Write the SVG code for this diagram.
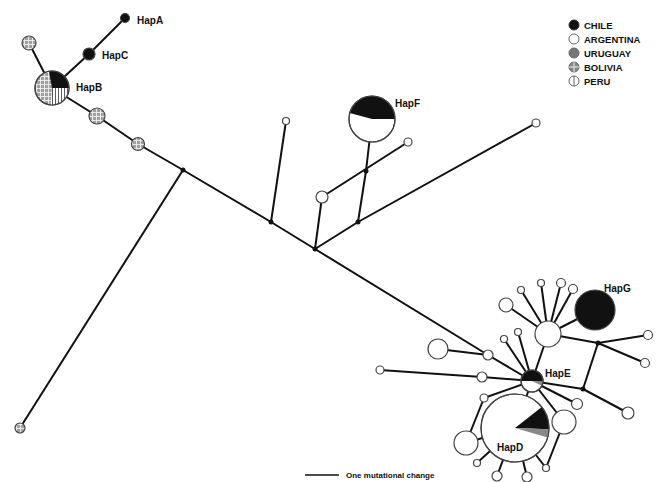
<svg xmlns="http://www.w3.org/2000/svg" width="656" height="482" viewBox="0 0 656 482">
<defs>
<pattern id="bol" patternUnits="userSpaceOnUse" width="4" height="4">
<rect width="4" height="4" fill="#a0a0a0"/>
<path d="M0,0.5 H4 M0.5,0 V4" stroke="#f0f0f0" stroke-width="0.9"/>
</pattern>
<pattern id="peru" patternUnits="userSpaceOnUse" width="3" height="3">
<rect width="3" height="3" fill="#fff"/>
<path d="M1.5,0 V3" stroke="#333" stroke-width="0.8"/>
</pattern>
<style>
.e{stroke:#111;stroke-width:2;fill:none}
.n{stroke:#444;stroke-width:1.2}
.w{fill:#fff}
.k{fill:#111}
.b{fill:url(#bol)}
.j{fill:#111}
.lab{font-family:"Liberation Sans",Arial,sans-serif;font-weight:bold;font-size:10px;fill:#111}
.leg{font-family:"Liberation Sans",Arial,sans-serif;font-weight:bold;font-size:9.5px;fill:#111}
</style>
</defs>
<rect width="656" height="482" fill="#fff"/>

<g id="connectors">
<line class="e" x1="125" y1="18" x2="89" y2="54"/>
<line class="e" x1="89" y1="54" x2="52" y2="88"/>
<line class="e" x1="52" y1="88" x2="29" y2="43"/>
<line class="e" x1="52" y1="88" x2="97" y2="116"/>
<line class="e" x1="97" y1="116" x2="138" y2="144"/>
<line class="e" x1="138" y1="144" x2="183" y2="170"/>
<line class="e" x1="183" y1="170" x2="20" y2="428"/>
<line class="e" x1="183" y1="170" x2="271" y2="222"/>
<line class="e" x1="271" y1="222" x2="286" y2="121"/>
<line class="e" x1="271" y1="222" x2="315" y2="249"/>
<line class="e" x1="315" y1="249" x2="322" y2="197"/>
<line class="e" x1="315" y1="249" x2="358" y2="222"/>
<line class="e" x1="358" y1="222" x2="536" y2="123"/>
<line class="e" x1="358" y1="222" x2="366" y2="171"/>
<line class="e" x1="366" y1="171" x2="372" y2="119"/>
<line class="e" x1="322" y1="197" x2="408" y2="142"/>
<line class="e" x1="315" y1="249" x2="488" y2="355"/>
<line class="e" x1="488" y1="355" x2="438" y2="349"/>
<line class="e" x1="488" y1="355" x2="532" y2="381"/>
<line class="e" x1="380" y1="370" x2="482" y2="377"/>
<line class="e" x1="482" y1="377" x2="532" y2="381"/>
<line class="e" x1="532" y1="381" x2="504" y2="339"/>
<line class="e" x1="532" y1="381" x2="518" y2="332"/>
<line class="e" x1="532" y1="381" x2="548" y2="334"/>
<line class="e" x1="548" y1="334" x2="506" y2="305"/>
<line class="e" x1="548" y1="334" x2="521" y2="290"/>
<line class="e" x1="548" y1="334" x2="541" y2="283"/>
<line class="e" x1="548" y1="334" x2="561" y2="283"/>
<line class="e" x1="548" y1="334" x2="573" y2="289"/>
<line class="e" x1="548" y1="334" x2="595" y2="310"/>
<line class="e" x1="548" y1="334" x2="598" y2="343"/>
<line class="e" x1="598" y1="343" x2="648" y2="335"/>
<line class="e" x1="598" y1="343" x2="645" y2="363"/>
<line class="e" x1="598" y1="343" x2="583" y2="389"/>
<line class="e" x1="532" y1="381" x2="583" y2="389"/>
<line class="e" x1="583" y1="389" x2="628" y2="413"/>
<line class="e" x1="532" y1="381" x2="577" y2="404"/>
<line class="e" x1="532" y1="381" x2="564" y2="422"/>
<line class="e" x1="564" y1="422" x2="546" y2="468"/>
<line class="e" x1="515" y1="428" x2="546" y2="468"/>
<line class="e" x1="532" y1="381" x2="515" y2="428"/>
<line class="e" x1="532" y1="381" x2="484" y2="398"/>
<line class="e" x1="484" y1="398" x2="466" y2="443"/>
<line class="e" x1="466" y1="443" x2="515" y2="428"/>
<line class="e" x1="515" y1="428" x2="477" y2="463"/>
<line class="e" x1="515" y1="428" x2="497" y2="476"/>
<line class="e" x1="515" y1="428" x2="527" y2="477"/>
</g>

<g id="HapA"><circle class="n k" cx="125" cy="18" r="4.5"/><text class="lab" x="137" y="24">HapA</text></g>
<g id="HapC"><circle class="n k" cx="89" cy="54" r="6"/><text class="lab" x="102" y="59">HapC</text></g>
<g id="HapB">
<circle class="n b" cx="52" cy="88" r="17"/>
<path d="M52,88 L49.05,71.26 A17,17 0 0,1 69,88 Z" fill="#111"/>
<path d="M52,88 L69,88 A17,17 0 0,1 50.52,104.94 Z" fill="url(#peru)"/>
<circle cx="52" cy="88" r="17" fill="none" stroke="#444" stroke-width="1.2"/>
<text class="lab" x="76" y="91">HapB</text>
</g>
<g id="bol1"><circle class="n b" cx="29" cy="43" r="7"/></g>
<g id="bol2"><circle class="n b" cx="97" cy="116" r="8"/></g>
<g id="bol3"><circle class="n b" cx="138" cy="144" r="6.5"/></g>
<g id="bol4"><circle class="n b" cx="20" cy="428" r="5"/></g>
<g id="j1"><circle class="j" cx="183" cy="170" r="2.5"/></g>
<g id="j2"><circle class="j" cx="271" cy="222" r="2.5"/></g>
<g id="j3"><circle class="j" cx="315" cy="249" r="2.5"/></g>
<g id="j4"><circle class="j" cx="358" cy="222" r="2.5"/></g>
<g id="j5"><circle class="j" cx="366" cy="171" r="2.5"/></g>
<g id="w1"><circle class="n w" cx="286" cy="121" r="3.5"/></g>
<g id="w2"><circle class="n w" cx="322" cy="197" r="6"/></g>
<g id="w3"><circle class="n w" cx="408" cy="142" r="4"/></g>
<g id="w4"><circle class="n w" cx="536" cy="123" r="4"/></g>
<g id="HapF">
<circle class="n w" cx="372" cy="119" r="23"/>
<path d="M372,119 L349.8,113.05 A23,23 0 0,1 395,119 Z" fill="#111"/>
<circle cx="372" cy="119" r="23" fill="none" stroke="#444" stroke-width="1.2"/>
<text class="lab" x="395" y="107">HapF</text>
</g>

<g id="w5"><circle class="n w" cx="488" cy="355" r="5"/></g>
<g id="l1"><circle class="n w" cx="438" cy="349" r="10"/></g>
<g id="w6"><circle class="n w" cx="380" cy="370" r="4"/></g>
<g id="w7"><circle class="n w" cx="482" cy="377" r="5"/></g>
<g id="s1"><circle class="n w" cx="504" cy="339" r="3.5"/></g>
<g id="s2"><circle class="n w" cx="518" cy="332" r="3.5"/></g>
<g id="m1"><circle class="n w" cx="548" cy="334" r="13"/></g>
<g id="t1"><circle class="n w" cx="506" cy="305" r="7"/></g>
<g id="t2"><circle class="n w" cx="521" cy="290" r="3.5"/></g>
<g id="t3"><circle class="n w" cx="541" cy="283" r="3.5"/></g>
<g id="t4"><circle class="n w" cx="561" cy="283" r="4.5"/></g>
<g id="t5"><circle class="n w" cx="573" cy="289" r="4.5"/></g>
<g id="HapG"><circle class="n k" cx="595" cy="310" r="20"/><text class="lab" x="604" y="292">HapG</text></g>
<g id="j6"><circle class="j" cx="598" cy="343" r="2.5"/></g>
<g id="j7"><circle class="j" cx="583" cy="389" r="2.5"/></g>
<g id="r1"><circle class="n w" cx="648" cy="335" r="4.5"/></g>
<g id="r2"><circle class="n w" cx="645" cy="363" r="4.5"/></g>
<g id="r3"><circle class="n w" cx="628" cy="413" r="6"/></g>
<g id="r4"><circle class="n w" cx="577" cy="404" r="5.5"/></g>
<g id="r5"><circle class="n w" cx="564" cy="422" r="12"/></g>
<g id="r6"><circle class="n w" cx="546" cy="468" r="3.5"/></g>
<g id="d1"><circle class="n w" cx="484" cy="398" r="4"/></g>
<g id="d2"><circle class="n w" cx="466" cy="443" r="12"/></g>
<g id="d3"><circle class="n w" cx="477" cy="463" r="3.5"/></g>
<g id="d4"><circle class="n w" cx="497" cy="476" r="5"/></g>
<g id="d5"><circle class="n w" cx="527" cy="477" r="5"/></g>
<g id="HapD">
<circle class="n w" cx="515" cy="428" r="34"/>
<path d="M515,428 L541.8,407.1 A34,34 0 0,1 548.98,429.19 Z" fill="#111"/>
<path d="M515,428 L548.98,429.19 A34,34 0 0,1 547.7,437.4 Z" fill="#888"/>
<circle cx="515" cy="428" r="34" fill="none" stroke="#444" stroke-width="1.2"/>
<text class="lab" x="497" y="451">HapD</text>
</g>
<g id="HapE">
<circle class="n w" cx="532" cy="381" r="11"/>
<path d="M521,381 A11,11 0 0,1 543,381 Z" fill="#111"/>
<path d="M532,381 L543,381 A11,11 0 0,1 541.97,385.65 Z" fill="#888"/>
<circle cx="532" cy="381" r="11" fill="none" stroke="#444" stroke-width="1.2"/>
<text class="lab" x="545" y="377">HapE</text>
</g>

<g id="legend">
<circle cx="574" cy="25" r="5" fill="#111" stroke="#333"/>
<text class="leg" x="584" y="28.5">CHILE</text>
<circle cx="574" cy="39" r="5" fill="#fff" stroke="#666"/>
<text class="leg" x="584" y="42.5">ARGENTINA</text>
<circle cx="574" cy="53" r="5" fill="#777" stroke="#666"/>
<text class="leg" x="584" y="56.5">URUGUAY</text>
<circle cx="574" cy="67" r="5" fill="#888" stroke="#666"/>
<path d="M569,67 H579 M574,62 V72" stroke="#eee" stroke-width="1"/>
<text class="leg" x="584" y="70.5">BOLIVIA</text>
<circle cx="574" cy="81" r="5" fill="#fff" stroke="#666"/>
<path d="M574,76 V86" stroke="#666" stroke-width="1"/>
<text class="leg" x="584" y="84.5">PERU</text>
</g>

<g id="scale">
<line x1="305" y1="475" x2="339" y2="475" stroke="#111" stroke-width="1.5"/>
<text class="leg" x="346" y="478" font-size="8px" style="font-size:8px">One mutational change</text>
</g>
</svg>
